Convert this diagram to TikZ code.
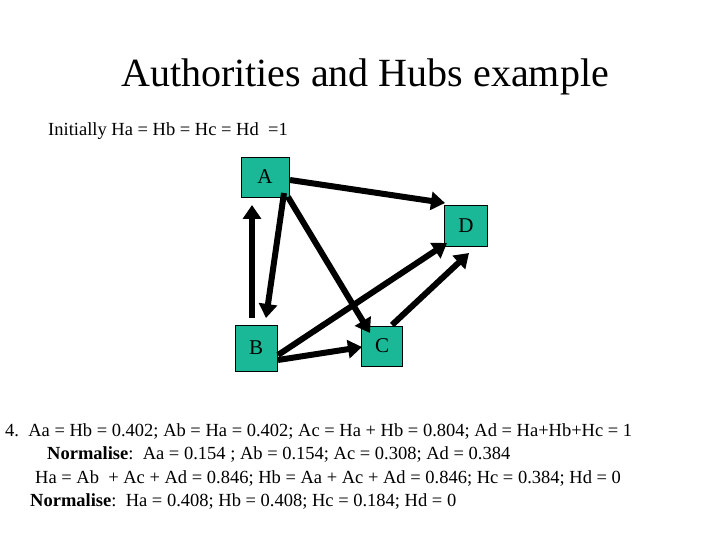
\documentclass[tikz,border=0pt]{standalone}
\usepackage{fontspec}
\setmainfont{Liberation Serif}
\usetikzlibrary{arrows.meta}
\definecolor{boxc}{RGB}{26,184,150}
\begin{document}
\begin{tikzpicture}[x=1pt,y=-1pt,
  box/.style={draw=black,fill=boxc,minimum width=#1,minimum height=40pt,inner sep=0pt,font=\fontsize{21}{21}\selectfont},
  box/.default=44pt,
  arr/.style={line width=6pt,-{Triangle[length=14pt,width=18pt]}},
  txt/.style={anchor=west,inner sep=0pt,font=\fontsize{18.5}{20}\selectfont}]
\useasboundingbox (0,0) rectangle (720,540);
\node[inner sep=0pt,font=\fontsize{40}{40}\selectfont] (title) at (365,77) {Authorities and Hubs example};
\node[txt] (init) at (48,131) {Initially Ha = Hb = Hc = Hd~ =1};
\node[box=48pt] (A) at (265,177) {A};
\node[box=43pt,minimum height=41pt] (D) at (466,226) {D};
\node[box=42pt,minimum height=46pt] (B) at (256,348) {B};
\node[box=41pt] (C) at (382,346) {C};
\coordinate (Dl) at (445,203);
\coordinate (Dlb) at (447,243);
\coordinate (Db) at (469,253);
\draw[arr] (290,180) -- (Dl);
\draw[arr] (252,318) -- (252,205);
\draw[arr] (284,193) -- (266,318);
\draw[arr] (288,197) -- (370,333);
\draw[arr] (278,355) -- (Dlb);
\draw[arr] (278,360) -- (362,347);
\draw[arr] (392,325) -- (Db);
\node[txt] (l1) at (5,432) {4.\ \ Aa = Hb = 0.402; Ab = Ha = 0.402; Ac = Ha + Hb = 0.804; Ad = Ha+Hb+Hc = 1};
\node[txt] (l2) at (47,455) {\textbf{Normalise}:\ \ Aa = 0.154 ; Ab = 0.154; Ac = 0.308; Ad = 0.384};
\node[txt] (l3) at (35,479) {Ha = Ab\ \ + Ac + Ad = 0.846; Hb = Aa + Ac + Ad = 0.846; Hc = 0.384; Hd = 0};
\node[txt] (l4) at (30,502) {\textbf{Normalise}:\ \ Ha = 0.408; Hb = 0.408; Hc = 0.184; Hd = 0};
\end{tikzpicture}
\end{document}
